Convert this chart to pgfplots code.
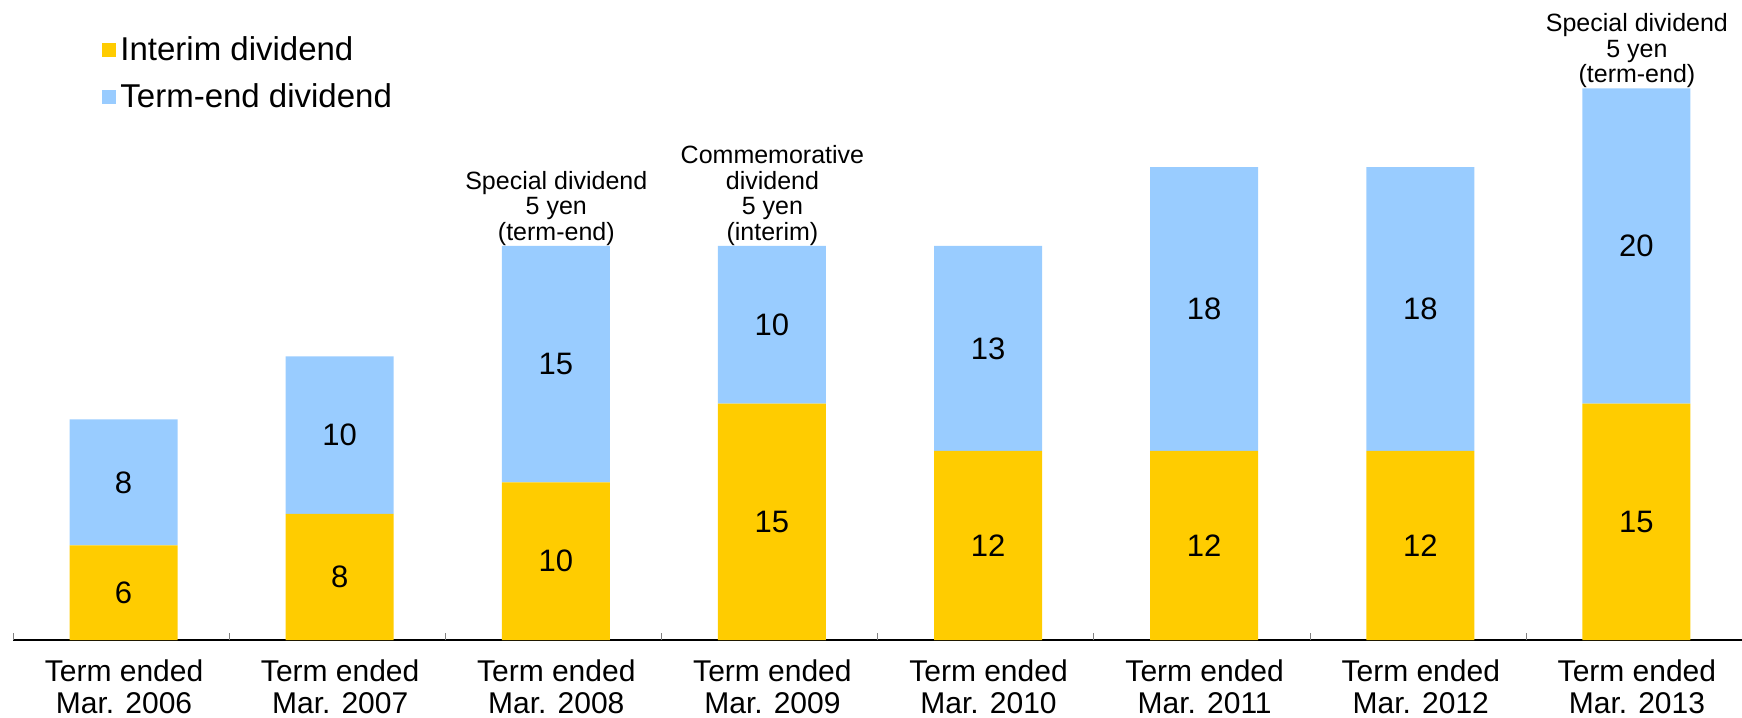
\documentclass[border=0pt]{standalone}
\usepackage{fontspec}
\setmainfont{Liberation Sans}
\usepackage{pgfplots}
\pgfplotsset{compat=1.18}
\definecolor{interimc}{HTML}{FFCC00}
\definecolor{termc}{HTML}{99CCFF}
\tikzset{vallab/.style={font=\fontsize{15.5}{15.5}\selectfont, xshift=1.25pt},
  annlab/.style={font=\fontsize{12.5}{12.8}\selectfont, align=center, anchor=south, inner sep=1pt, yshift=-1pt, xshift=1.5pt}}
\begin{document}
\begin{tikzpicture}
\begin{axis}[
  at={(0,0)}, anchor=south west,
  scale only axis, width=864.5pt, height=320pt,
  xmin=-0.5, xmax=7.5, ymin=0, ymax=40.6,
  ybar stacked, bar width=54pt, bar shift=1.25pt,
  axis x line*=bottom, axis y line=none,
  x axis line style={line width=0.75pt, black},
  xtick={0,1,2,3,4,5,6,7},
  xticklabels={{Term ended\\Mar. 2006},{Term ended\\Mar. 2007},{Term ended\\Mar. 2008},{Term ended\\Mar. 2009},{Term ended\\Mar. 2010},{Term ended\\Mar. 2011},{Term ended\\Mar. 2012},{Term ended\\Mar. 2013}},
  xticklabel style={align=center, font=\fontsize{15}{16}\selectfont, yshift=-6.5pt, xshift=1.5pt},
  major tick length=0pt,
  extra x ticks={-0.5,0.5,1.5,2.5,3.5,4.5,5.5,6.5,7.5},
  extra x tick labels={},
  extra x tick style={major tick length=3.5pt, tick align=inside},
  legend image code/.code={\fill[#1] (0pt,-3.5pt) rectangle (7pt,3.5pt);},
  legend style={draw=none, fill=none, at={(0.0515,0.95)}, anchor=north west, inner sep=0pt,
    font=\fontsize{16.5}{19}\selectfont, row sep=6pt},
  legend cell align=left,
  clip=false,
  after end axis/.append code={
    \node[vallab] at (axis cs:0,3) {6};    \node[vallab] at (axis cs:0,10) {8};
    \node[vallab] at (axis cs:1,4) {8};    \node[vallab] at (axis cs:1,13) {10};
    \node[vallab] at (axis cs:2,5) {10};   \node[vallab] at (axis cs:2,17.5) {15};
    \node[vallab] at (axis cs:3,7.5) {15}; \node[vallab] at (axis cs:3,20) {10};
    \node[vallab] at (axis cs:4,6) {12};   \node[vallab] at (axis cs:4,18.5) {13};
    \node[vallab] at (axis cs:5,6) {12};   \node[vallab] at (axis cs:5,21) {18};
    \node[vallab] at (axis cs:6,6) {12};   \node[vallab] at (axis cs:6,21) {18};
    \node[vallab] at (axis cs:7,7.5) {15}; \node[vallab] at (axis cs:7,25) {20};
    \node[annlab] at (axis cs:2,25) {Special dividend\\5 yen\\(term-end)};
    \node[annlab] at (axis cs:3,25) {Commemorative\\dividend\\5 yen\\(interim)};
    \node[annlab] at (axis cs:7,35) {Special dividend\\5 yen\\(term-end)};
  },
]
\addplot[draw=none, fill=interimc] coordinates {(0,6) (1,8) (2,10) (3,15) (4,12) (5,12) (6,12) (7,15)};
\addlegendentry{Interim dividend}
\addplot[draw=none, fill=termc] coordinates {(0,8) (1,10) (2,15) (3,10) (4,13) (5,18) (6,18) (7,20)};
\addlegendentry{Term-end dividend}
\end{axis}
\pgfresetboundingbox
\path[use as bounding box] (-6.5pt,-39pt) rectangle (864.5pt,320pt);
\end{tikzpicture}
\end{document}
